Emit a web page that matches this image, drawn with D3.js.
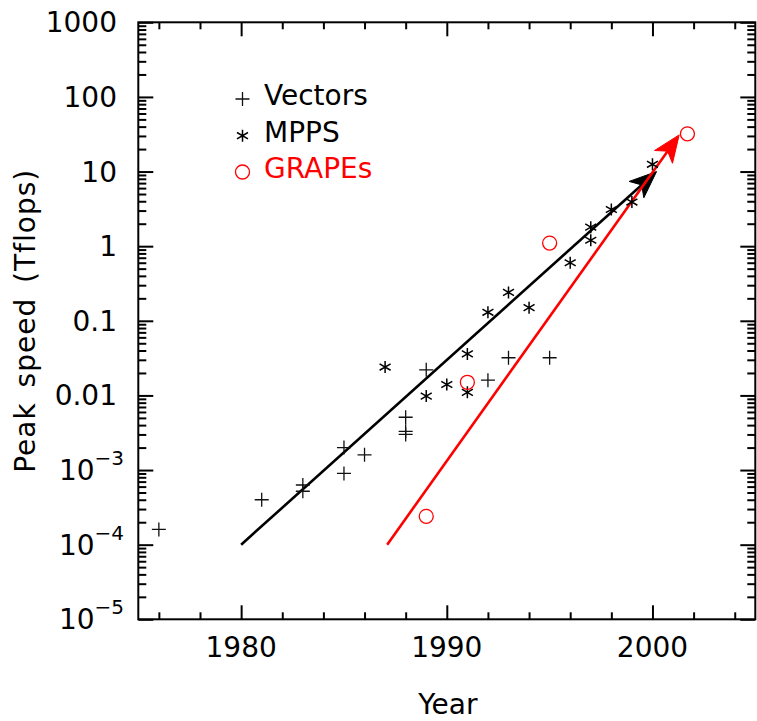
<!DOCTYPE html>
<html>
<head>
<meta charset="utf-8">
<script src="https://cdn.jsdelivr.net/npm/d3@7"></script>
<style>
  html, body { margin: 0; padding: 0; background: #fff; }
  svg { display: block; }
  text { font-family: "DejaVu Sans", sans-serif; }
</style>
</head>
<body>
<div id="chart"></div>
<script>
// ---- data ----
const vectorYears  = [1976, 1981, 1983, 1983, 1985, 1985, 1986, 1988, 1988, 1988, 1989, 1992, 1993, 1995];
const vectorSpeeds = [1.6e-4, 4.0e-4, 6.3e-4, 5.2e-4, 2.0e-3, 9.0e-4, 1.6e-3, 5.1e-3, 3.3e-3, 3.0e-3, 0.022, 0.016, 0.032, 0.032];

const mppYears  = [1987, 1989, 1990, 1991, 1991, 1992, 1993, 1994, 1996, 1997, 1997, 1998, 1999, 2000];
const mppSpeeds = [0.024, 0.0098, 0.014, 0.036, 0.011, 0.13, 0.24, 0.15, 0.60, 1.8, 1.2, 3.1, 3.9, 12.5];

const grapeYears  = [1989, 1991, 1995, 2001.7];
const grapeSpeeds = [2.4e-4, 0.015, 1.1, 32];

const trendBlackYears  = [1980, 2000.2];
const trendBlackSpeeds = [1e-4, 10];
const trendRedYears    = [1987.1, 2001.3];
const trendRedSpeeds   = [1e-4, 31];

const yTickValues = [1e-5, 1e-4, 1e-3, 0.01, 0.1, 1, 10, 100, 1000];
const yTickLabels = ["10^−5", "10^−4", "10^−3", "0.01", "0.1", "1", "10", "100", "1000"];
const xTickValues = [1980, 1990, 2000];
const xTickLabels = ["1980", "1990", "2000"];

const legendNames  = ["Vectors", "MPPS", "GRAPEs"];
const legendColors = ["#000", "#000", "#ff0000"];

// ---- layout ----
const W = 757, H = 721;
const L = 138.3, R = 755.3, T = 22.3, B = 619.3;

const svg = d3.select("#chart").append("svg").attr("width", W).attr("height", H);

const x = d3.scaleLinear().domain([1975, 2005]).range([L, R]);
const y = d3.scaleLog().domain([1e-5, 1e3]).range([B, T]);

// minor tick values
const yMinor = [];
for (let e = -5; e < 3; e++) for (let k = 2; k <= 9; k++) yMinor.push(k * Math.pow(10, e));
const xMinor = d3.range(1976, 2005, 2).filter(v => v % 10 !== 0);

function styleAxis(g) {
  g.select(".domain").remove();
  g.selectAll(".tick line").attr("stroke", "#000").attr("stroke-width", 2);
  g.selectAll(".tick text").remove();
}

// left
svg.append("g").attr("transform", `translate(${L},0)`)
  .call(d3.axisLeft(y).tickValues(yTickValues).tickSizeInner(-15).tickSizeOuter(0).tickFormat("")).call(styleAxis);
svg.append("g").attr("transform", `translate(${L},0)`)
  .call(d3.axisLeft(y).tickValues(yMinor).tickSizeInner(-8).tickSizeOuter(0).tickFormat("")).call(styleAxis);
// right
svg.append("g").attr("transform", `translate(${R},0)`)
  .call(d3.axisRight(y).tickValues(yTickValues).tickSizeInner(-15).tickSizeOuter(0).tickFormat("")).call(styleAxis);
svg.append("g").attr("transform", `translate(${R},0)`)
  .call(d3.axisRight(y).tickValues(yMinor).tickSizeInner(-8).tickSizeOuter(0).tickFormat("")).call(styleAxis);
// bottom
svg.append("g").attr("transform", `translate(0,${B})`)
  .call(d3.axisBottom(x).tickValues(xTickValues).tickSizeInner(-14).tickSizeOuter(0).tickFormat("")).call(styleAxis);
svg.append("g").attr("transform", `translate(0,${B})`)
  .call(d3.axisBottom(x).tickValues(xMinor).tickSizeInner(-7).tickSizeOuter(0).tickFormat("")).call(styleAxis);
// top
svg.append("g").attr("transform", `translate(0,${T})`)
  .call(d3.axisTop(x).tickValues(xTickValues).tickSizeInner(-14).tickSizeOuter(0).tickFormat("")).call(styleAxis);
svg.append("g").attr("transform", `translate(0,${T})`)
  .call(d3.axisTop(x).tickValues(xMinor).tickSizeInner(-7).tickSizeOuter(0).tickFormat("")).call(styleAxis);

// frame
svg.append("rect").attr("x", L).attr("y", T).attr("width", R - L).attr("height", B - T)
  .attr("fill", "none").attr("stroke", "#000").attr("stroke-width", 2);

// y tick labels
yTickValues.forEach((v, i) => {
  const lab = yTickLabels[i];
  const t = svg.append("text").attr("y", y(v) + 10).attr("font-size", 28)
    .attr("text-anchor", "end").attr("fill", "#000");
  if (lab.includes("^")) {
    const [base, ex] = lab.split("^");
    t.attr("x", 124);
    t.append("tspan").text(base);
    t.append("tspan").attr("font-size", 20).attr("dy", -15).text(ex);
  } else {
    t.attr("x", 117).text(lab);
  }
});

// x tick labels
xTickValues.forEach((v, i) => {
  svg.append("text").attr("x", x(v)).attr("y", 657).attr("font-size", 28)
    .attr("text-anchor", "middle").attr("fill", "#000").text(xTickLabels[i]);
});

// axis titles
svg.append("text").attr("x", (L + R) / 2 + 1).attr("y", 714).attr("font-size", 28)
  .attr("text-anchor", "middle").text("Year");
svg.append("text").attr("transform", `translate(35,${(T + B) / 2}) rotate(-90)`)
  .attr("font-size", 28).attr("letter-spacing", 1).attr("word-spacing", 5)
  .attr("text-anchor", "middle").text("Peak speed (Tflops)");

// trend arrows
function arrow(years, speeds, color) {
  const x0 = x(years[0]), y0 = y(speeds[0]), x1 = x(years[1]), y1 = y(speeds[1]);
  const dx = x1 - x0, dy = y1 - y0, len = Math.hypot(dx, dy);
  const ux = dx / len, uy = dy / len, nx = -uy, ny = ux;
  const hl = 27, hw = 11, notch = 20;
  svg.append("line").attr("x1", x0).attr("y1", y0)
    .attr("x2", x1 - ux * notch).attr("y2", y1 - uy * notch)
    .attr("stroke", color).attr("stroke-width", 2.6);
  const pts = [
    [x1, y1],
    [x1 - ux * hl + nx * hw, y1 - uy * hl + ny * hw],
    [x1 - ux * notch, y1 - uy * notch],
    [x1 - ux * hl - nx * hw, y1 - uy * hl - ny * hw]
  ];
  svg.append("path").attr("d", d3.line()(pts) + "Z").attr("fill", color).attr("stroke", color).attr("stroke-width", 1);
}
arrow(trendBlackYears, trendBlackSpeeds, "#000");
arrow(trendRedYears, trendRedSpeeds, "#ff0000");

// markers
const plusPath = "M-7,0H7M0,-7V7";
const starPath = "M0,-6V6M-5.5,-3.2L5.5,3.2M-5.5,3.2L5.5,-3.2";

svg.append("g").selectAll("path").data(vectorYears.map((v, i) => [v, vectorSpeeds[i]])).join("path")
  .attr("transform", d => `translate(${x(d[0])},${y(d[1])})`)
  .attr("d", plusPath).attr("fill", "none").attr("stroke", "#111").attr("stroke-width", 1.3);

svg.append("g").selectAll("path").data(mppYears.map((v, i) => [v, mppSpeeds[i]])).join("path")
  .attr("transform", d => `translate(${x(d[0])},${y(d[1])})`)
  .attr("d", starPath).attr("fill", "none").attr("stroke", "#000").attr("stroke-width", 1.5);

svg.append("g").selectAll("circle").data(grapeYears.map((v, i) => [v, grapeSpeeds[i]])).join("circle")
  .attr("cx", d => x(d[0])).attr("cy", d => y(d[1])).attr("r", 7)
  .attr("fill", "none").attr("stroke", "#ff0000").attr("stroke-width", 1.3);

// legend
const legBase = [105, 141.7, 178];
const legMarkX = 242.5;
legendNames.forEach((name, i) => {
  const cy = legBase[i] - 6;
  if (i === 0) {
    svg.append("path").attr("transform", `translate(${legMarkX},${cy})`).attr("d", plusPath)
      .attr("fill", "none").attr("stroke", "#111").attr("stroke-width", 1.3);
  } else if (i === 1) {
    svg.append("path").attr("transform", `translate(${legMarkX},${cy})`).attr("d", starPath)
      .attr("fill", "none").attr("stroke", "#000").attr("stroke-width", 1.5);
  } else {
    svg.append("circle").attr("cx", legMarkX).attr("cy", cy).attr("r", 7)
      .attr("fill", "none").attr("stroke", "#ff0000").attr("stroke-width", 1.3);
  }
  svg.append("text").attr("x", 264).attr("y", legBase[i]).attr("font-size", 28)
    .attr("fill", legendColors[i]).text(name);
});
</script>
</body>
</html>
